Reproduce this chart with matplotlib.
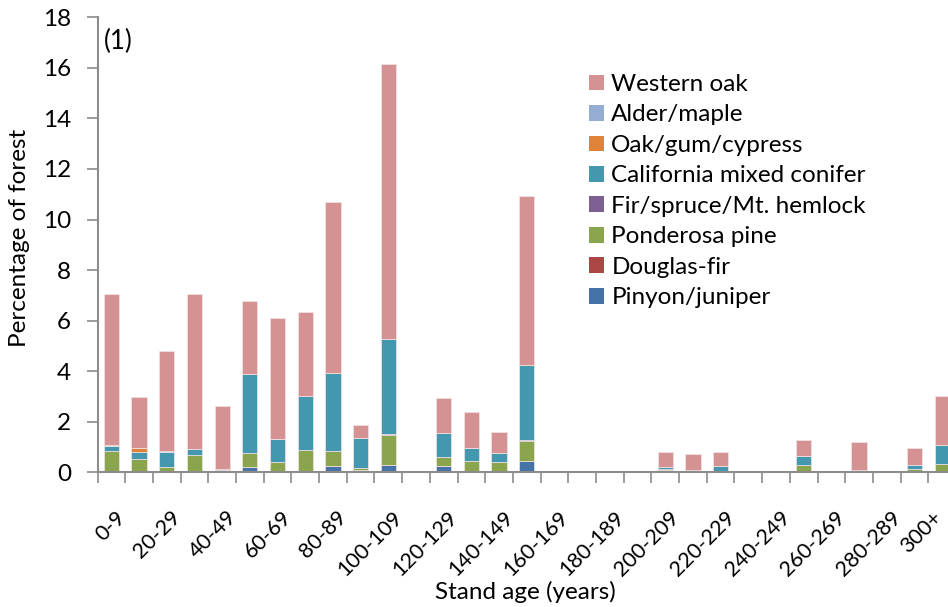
import matplotlib
matplotlib.use("Agg")
import matplotlib.pyplot as plt
import matplotlib.transforms as mtransforms
import numpy as np
from matplotlib.patches import Patch

plt.rcParams['font.family'] = ['Lato', 'DejaVu Sans']

categories = ['0-9', '10-19', '20-29', '30-39', '40-49', '50-59', '60-69', '70-79',
              '80-89', '90-99', '100-109', '110-119', '120-129', '130-139', '140-149',
              '150-159', '160-169', '170-179', '180-189', '190-199', '200-209',
              '210-219', '220-229', '230-239', '240-249', '250-259', '260-269',
              '270-279', '280-289', '290-299', '300+']

# bottom to top stacking order
pinyon_juniper = [0, 0, 0, 0, 0, 0.22, 0, 0.05, 0.26, 0.08, 0.29, 0, 0.26, 0.04, 0.02,
                  0.46, 0, 0, 0, 0, 0.08, 0.03, 0, 0, 0, 0.02, 0, 0, 0, 0, 0.03]
douglas_fir = [0, 0.07, 0.04, 0, 0, 0, 0, 0, 0, 0.03, 0, 0, 0, 0, 0,
               0, 0, 0, 0, 0, 0, 0, 0, 0, 0, 0, 0, 0, 0, 0, 0.03]
ponderosa_pine = [0.84, 0.46, 0.18, 0.69, 0.07, 0.53, 0.41, 0.83, 0.60, 0.06, 1.19, 0, 0.33,
                  0.42, 0.40, 0.78, 0, 0, 0, 0, 0.07, 0.03, 0.02, 0, 0, 0.25, 0, 0.08, 0,
                  0.15, 0.25]
fir_spruce_hemlock = [0, 0, 0, 0, 0, 0, 0, 0, 0, 0, 0.05, 0, 0, 0, 0,
                      0.02, 0, 0, 0, 0, 0, 0, 0, 0, 0, 0, 0, 0, 0, 0, 0]
ca_mixed_conifer = [0.21, 0.26, 0.57, 0.25, 0.02, 3.15, 0.91, 2.15, 3.08, 1.20, 3.73, 0, 0.98,
                    0.51, 0.34, 2.98, 0, 0, 0, 0, 0.04, 0.05, 0.23, 0, 0, 0.37, 0, 0, 0,
                    0.13, 0.77]
oak_gum_cypress = [0, 0.16, 0, 0, 0, 0, 0, 0, 0, 0, 0, 0, 0, 0, 0,
                   0, 0, 0, 0, 0, 0, 0, 0, 0, 0, 0, 0, 0, 0, 0, 0]
alder_maple = [0.03, 0.02, 0.06, 0, 0.04, 0, 0, 0, 0, 0, 0, 0, 0, 0, 0,
               0, 0, 0, 0, 0, 0.02, 0, 0, 0, 0, 0, 0, 0, 0, 0, 0]
western_oak = [5.96, 2.02, 3.95, 6.10, 2.49, 2.88, 4.77, 3.30, 6.74, 0.50, 10.89, 0, 1.36,
               1.40, 0.85, 6.69, 0, 0, 0.07, 0, 0.59, 0.63, 0.54, 0, 0, 0.63, 0, 1.11, 0,
               0.69, 1.94]

series = [
    ('Pinyon/juniper', pinyon_juniper, '#4572A7'),
    ('Douglas-fir', douglas_fir, '#AA4644'),
    ('Ponderosa pine', ponderosa_pine, '#8BA54E'),
    ('Fir/spruce/Mt. hemlock', fir_spruce_hemlock, '#7D6091'),
    ('California mixed conifer', ca_mixed_conifer, '#4398B0'),
    ('Oak/gum/cypress', oak_gum_cypress, '#E0833A'),
    ('Alder/maple', alder_maple, '#95ACD3'),
    ('Western oak', western_oak, '#D49293'),
]

FS = 17.5
TFS = 15.5
W, H = 948, 607
fig = plt.figure(figsize=(W / 100, H / 100), dpi=100)
ax_l, ax_b, ax_w, ax_h = 97.5, 472.3, 858.5, 455.0
ax = fig.add_axes([ax_l / W, 1 - ax_b / H, ax_w / W, ax_h / H])

x = np.arange(len(categories))
bottom = np.zeros(len(categories))
for name, vals, col in series:
    v = np.array(vals, dtype=float)
    ax.bar(x, v, width=0.55, bottom=bottom, color=col, edgecolor='#F2E4E4',
           linewidth=0.5, label=name)
    bottom += v

ax.set_xlim(-0.5, len(categories) - 0.5)
ax.set_ylim(0, 18)
ax.set_yticks(np.arange(0, 19, 2))
ax.tick_params(axis='y', labelsize=FS, length=8, width=1.2, color='#8C8C8C', pad=11)

ax.set_xticks(np.arange(-0.5, len(categories), 1), minor=True)
ax.set_xticks(x[::2])
ax.set_xticklabels(categories[::2], rotation=45, ha='right', va='top',
                   rotation_mode='anchor', fontsize=TFS)
ax.tick_params(axis='x', which='major', length=0, pad=25)
ax.tick_params(axis='x', which='minor', length=8, width=1.2, color='#8C8C8C')
labels = ax.get_xticklabels()
for i, lab in enumerate(labels):
    dx = 4 if i < len(labels) - 1 else -10
    lab.set_transform(lab.get_transform() +
                      mtransforms.ScaledTranslation(dx / 100, 0, fig.dpi_scale_trans))

for s in ['top', 'right']:
    ax.spines[s].set_visible(False)
for s in ['left', 'bottom']:
    ax.spines[s].set_color('#8C8C8C')
    ax.spines[s].set_linewidth(1.5)

fig.text(20 / W, 1 - 238 / H, 'Percentage of forest', rotation=90, ha='center',
         va='center', fontsize=FS)
fig.text(525 / W, 1 - 592 / H, 'Stand age (years)', ha='center', va='center', fontsize=FS)
ax.text(0.008, 0.975, '(1)', transform=ax.transAxes, fontsize=FS + 1, va='top', ha='left')

handles = [Patch(facecolor=col, edgecolor='none', label=name)
           for name, vals, col in reversed(series)]
leg = ax.legend(handles=handles, loc='upper left',
                bbox_to_anchor=((589 - ax_l) / ax_w, (ax_b - 74) / ax_h),
                frameon=False, fontsize=FS, handlelength=0.62, handleheight=0.62,
                handletextpad=0.3, labelspacing=0.39, borderaxespad=0, borderpad=0)

fig.savefig('out.png', dpi=100)
